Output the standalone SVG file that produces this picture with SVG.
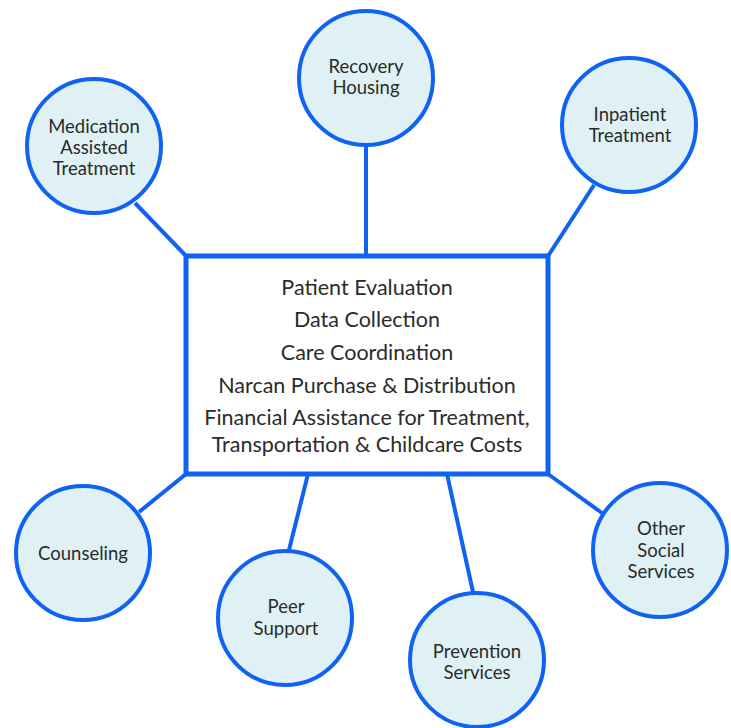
<svg xmlns="http://www.w3.org/2000/svg" width="731" height="728" viewBox="0 0 731 728">
<style>
.node{fill:#dff1f4;stroke:#0f62f2;stroke-width:4}
.box{fill:#ffffff;stroke:#0f62f2;stroke-width:5}
.conn line{stroke:#0f62f2;stroke-width:4;stroke-linecap:butt}
text{font-family:Lato,"Open Sans","Liberation Sans",sans-serif;fill:#2b2b2b;text-anchor:middle}
.c{font-size:18.5px}
.b{font-size:21.5px}
</style>
<rect width="731" height="728" fill="#ffffff"/>
<g id="connectors" class="conn">
<line x1="135" y1="203" x2="186" y2="256"/>
<line x1="366" y1="146" x2="366" y2="256"/>
<line x1="594" y1="185" x2="548" y2="256"/>
<line x1="139" y1="512" x2="186" y2="474"/>
<line x1="289" y1="550" x2="308" y2="474"/>
<line x1="473" y1="592" x2="447" y2="474"/>
<line x1="602" y1="513" x2="548" y2="474"/>
</g>
<g id="center">
<rect class="box" x="186" y="256" width="362" height="218"/>
<text class="b" x="367" y="295">Patient Evaluation</text>
<text class="b" x="367" y="327">Data Collection</text>
<text class="b" x="367" y="360">Care Coordination</text>
<text class="b" x="367" y="393">Narcan Purchase &amp; Distribution</text>
<text class="b" x="367" y="425">Financial Assistance for Treatment,</text>
<text class="b" x="367" y="452">Transportation &amp; Childcare Costs</text>
</g>
<g id="mat">
<circle class="node" cx="94" cy="146" r="67"/>
<text class="c" x="94" y="133">Medication</text>
<text class="c" x="94" y="154">Assisted</text>
<text class="c" x="94" y="175">Treatment</text>
</g>
<g id="recovery">
<circle class="node" cx="366" cy="78" r="67"/>
<text class="c" x="366" y="73">Recovery</text>
<text class="c" x="366" y="94">Housing</text>
</g>
<g id="inpatient">
<circle class="node" cx="629" cy="125" r="67"/>
<text class="c" x="630" y="121">Inpatient</text>
<text class="c" x="630" y="142">Treatment</text>
</g>
<g id="counseling">
<circle class="node" cx="83" cy="553" r="67"/>
<text class="c" x="83" y="560">Counseling</text>
</g>
<g id="peer">
<circle class="node" cx="285" cy="618" r="67"/>
<text class="c" x="286" y="613">Peer</text>
<text class="c" x="286" y="635">Support</text>
</g>
<g id="prevention">
<circle class="node" cx="477" cy="660" r="67"/>
<text class="c" x="477" y="658">Prevention</text>
<text class="c" x="477" y="679">Services</text>
</g>
<g id="other">
<circle class="node" cx="660" cy="550" r="67"/>
<text class="c" x="661" y="535">Other</text>
<text class="c" x="661" y="557">Social</text>
<text class="c" x="661" y="578">Services</text>
</g>
</svg>
